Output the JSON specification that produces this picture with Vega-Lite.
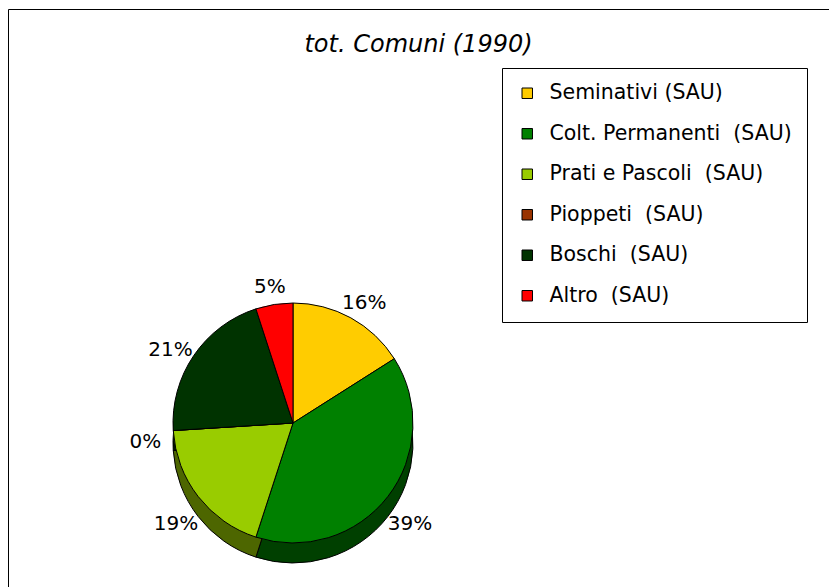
{
  "$schema": "https://vega.github.io/schema/vega-lite/v6.json",
  "width": 821,
  "height": 578,
  "autosize": {"type": "none"},
  "padding": {"left": 8, "top": 9, "right": 0, "bottom": 0},
  "background": "white",
  "config": {
    "view": {"stroke": "black", "strokeWidth": 1},
    "font": "DejaVu Sans"
  },
  "title": {
    "text": "tot. Comuni (1990)",
    "font": "DejaVu Sans",
    "fontSize": 24,
    "fontStyle": "italic",
    "fontWeight": "normal",
    "color": "black",
    "anchor": "middle",
    "offset": -48
  },
  "data": {
    "values": [
      {"cat": "Seminativi (SAU)", "share": 0.16, "i": 1},
      {"cat": "Colt. Permanenti\u00a0 (SAU)", "share": 0.39, "i": 2},
      {"cat": "Prati e Pascoli\u00a0 (SAU)", "share": 0.19, "i": 3},
      {"cat": "Pioppeti\u00a0 (SAU)", "share": 0.0, "i": 4},
      {"cat": "Boschi\u00a0 (SAU)", "share": 0.21, "i": 5},
      {"cat": "Altro\u00a0 (SAU)", "share": 0.05, "i": 6}
    ]
  },
  "layer": [
    {
      "mark": {"type": "arc", "radius": 120, "yOffset": 20, "stroke": "black", "strokeWidth": 1},
      "encoding": {
        "theta": {"field": "share", "type": "quantitative", "stack": true},
        "order": {"field": "i", "type": "quantitative"},
        "color": {
          "field": "cat",
          "type": "nominal",
          "sort": null,
          "scale": {
            "domain": ["Seminativi (SAU)", "Colt. Permanenti\u00a0 (SAU)", "Prati e Pascoli\u00a0 (SAU)", "Pioppeti\u00a0 (SAU)", "Boschi\u00a0 (SAU)", "Altro\u00a0 (SAU)"],
            "range": ["#806600", "#004000", "#4d6600", "#4d1a00", "#001a00", "#800000"]
          },
          "legend": null
        },
        "x": {"value": 285},
        "y": {"value": 414}
      }
    },
    {
      "mark": {"type": "arc", "radius": 120, "stroke": "black", "strokeWidth": 1},
      "encoding": {
        "theta": {"field": "share", "type": "quantitative", "stack": true},
        "order": {"field": "i", "type": "quantitative"},
        "color": {
          "field": "cat",
          "type": "nominal",
          "sort": null,
          "scale": {
            "domain": ["Seminativi (SAU)", "Colt. Permanenti\u00a0 (SAU)", "Prati e Pascoli\u00a0 (SAU)", "Pioppeti\u00a0 (SAU)", "Boschi\u00a0 (SAU)", "Altro\u00a0 (SAU)"],
            "range": ["#FFCC00", "#008000", "#99CC00", "#993300", "#003300", "#FF0000"]
          },
          "legend": {
            "title": null,
            "orient": "none",
            "legendX": 494,
            "legendY": 59,
            "strokeColor": "black",
            "fillColor": "white",
            "padding": 15,
            "rowPadding": 19.5,
            "symbolType": "square",
            "symbolSize": 110,
            "symbolStrokeColor": "black",
            "symbolStrokeWidth": 1,
            "labelFont": "DejaVu Sans",
            "labelFontSize": 20.5,
            "labelColor": "black",
            "labelOffset": 12,
            "labelLimit": 400
          }
        },
        "x": {"value": 285},
        "y": {"value": 414}
      }
    },
    {
      "mark": {"type": "text", "radius": 148, "font": "DejaVu Sans", "fontSize": 20, "color": "black"},
      "encoding": {
        "theta": {"field": "share", "type": "quantitative", "stack": true},
        "order": {"field": "i", "type": "quantitative"},
        "text": {"field": "share", "type": "quantitative", "format": ".0%"},
        "x": {"value": 285},
        "y": {"value": 424}
      }
    }
  ],
  "resolve": {"scale": {"color": "independent"}}
}
